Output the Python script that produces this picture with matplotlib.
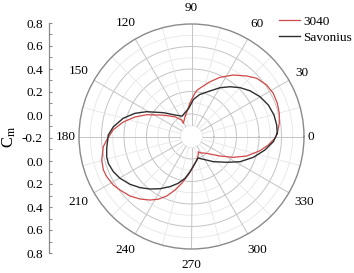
import numpy as np
import matplotlib
matplotlib.use("Agg")
import matplotlib.pyplot as plt

plt.rcParams['font.family'] = ['Liberation Serif', 'DejaVu Serif']
plt.rcParams['mathtext.fontset'] = 'stix'

# ---------------- data ----------------
red_angles = [2.1, 8.5, 14.8, 21.2, 27.8, 34.4, 41.8, 47.6, 55.8, 64.3, 71.3, 77, 83, 86, 93, 97,
              108, 121.8, 121, 130, 143, 154, 161, 168, 175, 182.4, 186.6, 194.7, 200.8, 205.4,
              211.8, 216.8, 224, 230.5, 236.8, 242.1, 247.4, 252.9, 258.2, 265.2, 273.4, 282.5,
              290.2, 294, 297.7, 312.1, 325.6, 333.5, 340.5, 348.3, 353.7, 358.8, 362.1]
red_cm = [0.563, 0.589, 0.607, 0.618, 0.622, 0.610, 0.577, 0.528, 0.461, 0.384, 0.314, 0.26, 0.216,
          0.18, 0.095, 0.05, -0.015, -0.062, -0.03, 0.029, 0.115, 0.242, 0.332, 0.420, 0.498, 0.555,
          0.589, 0.625, 0.638, 0.634, 0.618, 0.594, 0.561, 0.520, 0.475, 0.431, 0.373, 0.298, 0.225,
          0.143, 0.069, 0.014, -0.025, -0.052, -0.037, 0.002, 0.107, 0.215, 0.320, 0.422, 0.487,
          0.542, 0.563]

blk_angles = [2.1, 7.7, 14.6, 22.3, 30.2, 38, 45.2, 52.3, 59.7, 67.9, 79, 87, 93, 96, 105, 115,
              127.5, 139.8, 151, 157.7, 165, 172.9, 179, 187.9, 193.4, 197.9, 204.2, 210.3, 217.9,
              224.8, 231.7, 238.9, 246.8, 254.2, 261.2, 267.6, 277.4, 287, 297.4, 310.9, 323.8,
              332.5, 341.4, 349.6, 356.4, 362.1]
blk_cm = [0.563, 0.564, 0.558, 0.538, 0.504, 0.460, 0.412, 0.359, 0.302, 0.237, 0.18, 0.13, 0.07,
          0.05, 0.02, 0.0, 0.041, 0.128, 0.255, 0.343, 0.428, 0.500, 0.540, 0.561, 0.575, 0.577,
          0.562, 0.536, 0.492, 0.445, 0.395, 0.342, 0.285, 0.232, 0.176, 0.113, 0.040, 0.0, 0.028,
          0.096, 0.188, 0.286, 0.380, 0.464, 0.529, 0.563]

series_names = ['3040', 'Savonius']
angle_ticks = [0, 30, 60, 90, 120, 150, 180, 210, 240, 270, 300, 330]
angle_labels = ['0', '30', '60', '90', '120', '150', '180', '210', '240', '270', '300', '330']
r_min, r_max = -0.2, 0.8
left_tick_labels = ['0.8', '0.6', '0.4', '0.2', '0.0', '-0.2', '0.0', '0.2', '0.4', '0.6', '0.8']

# ---------------- figure ----------------
W, H = 354, 273
fig = plt.figure(figsize=(W / 100, H / 100), dpi=100)

cx, cy, R = 191.5, 136.5, 112.5
ax = fig.add_axes([(cx - R) / W, (H - cy - R) / H, 2 * R / W, 2 * R / H], projection='polar')
ax.set_ylim(r_min, r_max)
ax.grid(False)
ax.set_xticklabels([])
ax.set_yticklabels([])
ax.tick_params(length=0)
ax.spines['polar'].set_color('#8a8a8a')
ax.spines['polar'].set_linewidth(1.0)

full = np.linspace(0, 2 * np.pi, 400)
major_c, minor_c = '#c4c4c4', '#e6e6e6'
for rv in [-0.1, 0.1, 0.3, 0.5, 0.7]:
    ax.plot(full, np.full_like(full, rv), color=minor_c, lw=0.6, zorder=1)
for rv in [0.0, 0.2, 0.4, 0.6]:
    ax.plot(full, np.full_like(full, rv), color=major_c, lw=0.7, zorder=1)
for a in range(0, 360, 15):
    col = major_c if a % 30 == 0 else minor_c
    ax.plot([np.deg2rad(a)] * 2, [-0.1, r_max], color=col, lw=0.7 if a % 30 == 0 else 0.6, zorder=1)

l1, = ax.plot(np.deg2rad(red_angles), red_cm, color='#d04848', lw=0.9, zorder=3, label=series_names[0])
l2, = ax.plot(np.deg2rad(blk_angles), blk_cm, color='#2e2e2e', lw=1.0, zorder=3, label=series_names[1])

for a, lab in zip(angle_ticks, angle_labels):
    t = np.deg2rad(a)
    c, s = np.cos(t), np.sin(t)
    w = 6.3 * len(lab)
    h = 24
    d = 4 + abs(c) * w / 2 + abs(s) * h / 2
    ax.annotate(lab, xy=(t, r_max), xytext=(d * c, d * s), textcoords='offset pixels',
                ha='center', va='center', fontsize=9.5, annotation_clip=False)

# left radial axis
lax = fig.add_axes([49 / W, (H - 253) / H, 0.001, 230 / H])
lax.set_ylim(-1, 1)
lax.set_xticks([])
for sp in ['top', 'right', 'bottom']:
    lax.spines[sp].set_visible(False)
lax.spines['left'].set_color('#8a8a8a')
lax.spines['left'].set_linewidth(0.9)
pos = np.linspace(1, -1, len(left_tick_labels))
lax.set_yticks(pos)
lax.set_yticklabels(left_tick_labels)
lax.set_yticks(np.arange(-0.9, 1.0, 0.2), minor=True)
lax.tick_params(axis='y', which='major', direction='in', length=2.5, width=0.8, color='#8a8a8a',
                pad=4.5, labelsize=9.5)
lax.tick_params(axis='y', which='minor', direction='in', length=1.8, width=0.7, color='#8a8a8a')
lax.patch.set_alpha(0)

fig.text(9 / W, 1 - 137 / H, r'C$_{\mathrm{m}}$', rotation=90, ha='center', va='center', fontsize=12)

fig.legend(handles=[l1, l2], loc='upper left', bbox_to_anchor=(279 / W, 1 - 15.5 / H),
           frameon=False, fontsize=9.5, handlelength=1.6, handletextpad=0.25,
           borderpad=0, borderaxespad=0, labelspacing=0.3)

fig.savefig('out.png', dpi=100)
